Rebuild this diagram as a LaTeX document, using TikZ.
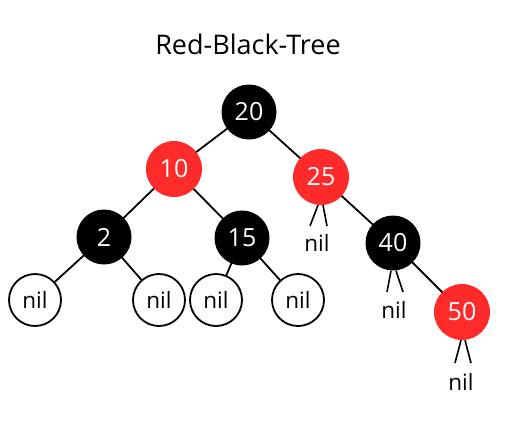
\documentclass[tikz,border=0pt]{standalone}
\usepackage{fontspec}
\setmainfont{Open Sans}
\definecolor{rbred}{HTML}{FF2A2A}
\begin{document}
\begin{tikzpicture}[x=1pt,y=-1pt,
  every node/.style={font=\fontsize{25}{30}\selectfont},
  blk/.style={circle,fill=black,text=white,minimum size=55pt,inner sep=0pt},
  rd/.style={circle,fill=rbred,text=white,minimum size=56pt,inner sep=0pt},
  nilc/.style={circle,draw=black,line width=1.8pt,fill=white,minimum size=52pt,inner sep=0pt,font=\fontsize{22.5}{27}\selectfont},
  niltxt/.style={inner sep=0pt,font=\fontsize{22.5}{27}\selectfont},
  edge/.style={line width=1.8pt},
  leg/.style={line width=1.6pt}]
\useasboundingbox (0,0) rectangle (514,429);
\node[font=\fontsize{27}{32}\selectfont] (title) at (248,44) {Red-Black-Tree};
% edges first
\coordinate (c20) at (249,112);
\coordinate (c10) at (174,169);
\coordinate (c25) at (321,177);
\coordinate (c2) at (104,237);
\coordinate (c15) at (242,238);
\coordinate (c40) at (393,243);
\coordinate (c50) at (462,312);
\coordinate (cn1) at (35,300);
\coordinate (cn2) at (159,300);
\coordinate (cn3) at (216,300);
\coordinate (cn4) at (298,300);
\draw[edge] (c20) -- (c10);
\draw[edge] (c20) -- (c25);
\draw[edge] (c10) -- (c2);
\draw[edge] (c10) -- (c15);
\draw[edge] (c25) -- (c40);
\draw[edge] (c40) -- (c50);
\draw[edge] (c2) -- (cn1);
\draw[edge] (c2) -- (cn2);
\draw[edge] (c15) -- (cn3);
\draw[edge] (c15) -- (cn4);
% nodes
\node[blk] (n20) at (c20) {20};
\node[rd] (n10) at (c10) {10};
\node[rd] (n25) at (c25) {25};
\node[blk] (n2) at (c2) {2};
\node[blk] (n15) at (c15) {15};
\node[blk] (n40) at (c40) {40};
\node[rd] (n50) at (c50) {50};
\node[nilc] (nil1) at (cn1) {nil};
\node[nilc] (nil2) at (cn2) {nil};
\node[nilc] (nil3) at (cn3) {nil};
\node[nilc] (nil4) at (cn4) {nil};
% nil labels with legs
\node[niltxt] (l25) at (317,243) {nil};
\node[niltxt] (l40) at (394,310) {nil};
\node[niltxt] (l50) at (461,382) {nil};
\coordinate (a25) at (310,226); \coordinate (b25) at (327,226);
\coordinate (a40) at (387,292); \coordinate (b40) at (403,292);
\coordinate (a50) at (455,363); \coordinate (b50) at (471,363);
\draw[leg] ([xshift=-3pt]n25.south) -- (a25);
\draw[leg] ([xshift=2pt]n25.south) -- (b25);
\draw[leg] ([xshift=-2pt]n40.south) -- (a40);
\draw[leg] ([xshift=3pt]n40.south) -- (b40);
\draw[leg] ([xshift=-1pt]n50.south) -- (a50);
\draw[leg] ([xshift=3pt]n50.south) -- (b50);
\end{tikzpicture}
\end{document}
